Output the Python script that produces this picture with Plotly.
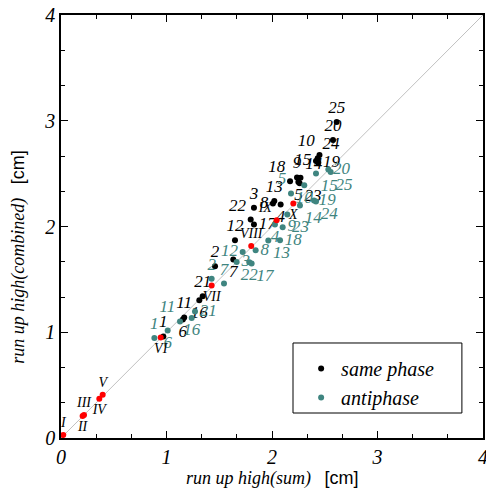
import plotly.graph_objects as go

# same phase (black)
same_labels = [str(i) for i in range(1, 26)]
same_x = [0.970, 1.460, 1.829, 2.082, 2.250, 1.155, 1.633, 2.009, 2.237, 2.450,
          1.168, 1.649, 2.022, 2.270, 2.417, 1.311, 1.829, 2.171, 2.439, 2.578,
          1.343, 1.798, 2.262, 2.433, 2.613]
same_y = [0.960, 1.624, 2.177, 2.209, 2.420, 1.120, 1.687, 2.218, 2.464, 2.675,
          1.140, 1.870, 2.240, 2.460, 2.619, 1.302, 2.019, 2.427, 2.604, 2.818,
          1.340, 2.066, 2.410, 2.645, 2.989]
same_pos = ["top center", "top center", "top center", "bottom center", "bottom center",
            "bottom center", "bottom center", "middle left", "top center", "top left",
            "top center", "top center", "top center", "top right", "middle left",
            "bottom center", "middle right", "top left", "middle right", "top center",
            "top center", "top left", "bottom right", "top right", "top center"]

# antiphase (teal)
anti_labels = [str(i) for i in range(1, 26)]
anti_x = [0.885, 1.428, 1.665, 2.028, 2.180, 1.011, 1.545, 1.845, 2.101, 2.306,
          1.128, 1.722, 1.965, 2.265, 2.417, 1.239, 1.807, 2.076, 2.398, 2.534,
          1.270, 1.785, 2.145, 2.417, 2.556]
anti_y = [0.945, 1.507, 1.665, 2.019, 2.313, 1.017, 1.460, 1.775, 1.993, 2.389,
          1.102, 1.760, 1.867, 2.199, 2.502, 1.135, 1.649, 1.870, 2.246, 2.540,
          1.197, 1.662, 2.114, 2.237, 2.515]
anti_pos = ["top center", "top center", "middle right", "bottom center", "top left",
            "bottom center", "top center", "middle right", "middle right", "bottom center",
            "top left", "middle left", "bottom right", "bottom right", "bottom right",
            "bottom center", "bottom right", "middle right", "middle right", "middle right",
            "middle right", "bottom center", "bottom right", "bottom right", "bottom right"]

# combined cases (red, roman numerals)
red_labels = ["I", "II", "III", "IV", "V", "VI", "VII", "VIII", "IX", "X"]
red_x = [0.022, 0.205, 0.218, 0.363, 0.395, 0.945, 1.428, 1.803, 2.044, 2.202]
red_y = [0.028, 0.208, 0.218, 0.370, 0.408, 0.951, 1.441, 1.816, 2.060, 2.218]
red_pos = ["top center", "bottom center", "top center", "bottom center", "top center",
           "bottom center", "bottom center", "top center", "top left", "bottom center"]

diag = [0, 4]
ticks = [0, 1, 2, 3, 4]

SERIF = "Liberation Serif"
BLACK = "#000000"
TEAL = "#3f8580"
RED = "#ff0000"

fig = go.Figure()
fig.add_trace(go.Scatter(x=diag, y=diag, mode="lines",
                         line=dict(color="#c0c0c0", width=1),
                         showlegend=False, hoverinfo="skip"))
fig.add_trace(go.Scatter(x=same_x, y=same_y, mode="markers+text", name="same phase",
                         text=same_labels, textposition=same_pos,
                         textfont=dict(family=SERIF, size=17, color=BLACK, style="italic"),
                         marker=dict(color=BLACK, size=6)))
fig.add_trace(go.Scatter(x=anti_x, y=anti_y, mode="markers+text", name="antiphase",
                         text=anti_labels, textposition=anti_pos,
                         textfont=dict(family=SERIF, size=17, color=TEAL, style="italic"),
                         marker=dict(color=TEAL, size=6)))
fig.add_trace(go.Scatter(x=red_x, y=red_y, mode="markers+text", name="",
                         text=red_labels, textposition=red_pos,
                         textfont=dict(family=SERIF, size=14, color=BLACK, style="italic"),
                         marker=dict(color=RED, size=6), showlegend=False))

axis_common = dict(range=[0, 4], tickvals=ticks, ticktext=[str(t) for t in ticks],
                   ticks="inside", ticklen=7, tickwidth=1, tickcolor="black",
                   showline=True, linecolor="black", linewidth=1.5, mirror="allticks",
                   showgrid=False, zeroline=False, automargin=False,
                   ticklabeloverflow="allow",
                   tickfont=dict(family=SERIF, size=20, color="black", style="italic"),
                   minor=dict(dtick=1/3, tick0=0, ticks="inside", ticklen=4,
                              tickcolor="black", showgrid=False))

fig.update_layout(
    width=486, height=496,
    margin=dict(l=61, r=3, t=15, b=58),
    paper_bgcolor="white", plot_bgcolor="white",
    xaxis=dict(**axis_common),
    yaxis=dict(**axis_common),
    showlegend=True,
    legend=dict(x=0.569, y=0.2104, xanchor="left", yanchor="top",
                borderwidth=0, bgcolor="rgba(0,0,0,0)",
                font=dict(family=SERIF, size=20, color="black", style="italic"),
                itemsizing="trace", tracegroupgap=10, itemwidth=30),
    shapes=[dict(type="rect", xref="paper", yref="paper",
                 x0=0.5498, x1=0.950, y0=0.0591, y1=0.2246,
                 line=dict(color="black", width=1), fillcolor="white", layer="below")],
    annotations=[
        dict(text="<i>run up high(sum)</i>   <span style='font-family:Liberation Sans;font-style:normal'>[cm]</span>",
             x=0.5, y=-0.095, xref="paper", yref="paper", xanchor="center", yanchor="middle",
             showarrow=False, font=dict(family=SERIF, size=18, color="black")),
        dict(text="<i>run up high(combined)</i>   <span style='font-family:Liberation Sans;font-style:normal'>[cm]</span>",
             x=-0.1, y=0.428, xref="paper", yref="paper", xanchor="center", yanchor="middle",
             textangle=-90, showarrow=False, font=dict(family=SERIF, size=18, color="black")),
    ],
)

# remove the browser's default 8px body margin so the figure fills the window exactly
fig.write_html("out.html",
               config={"displayModeBar": False},
               post_script="document.body.style.margin='0';document.body.style.overflow='hidden';")
